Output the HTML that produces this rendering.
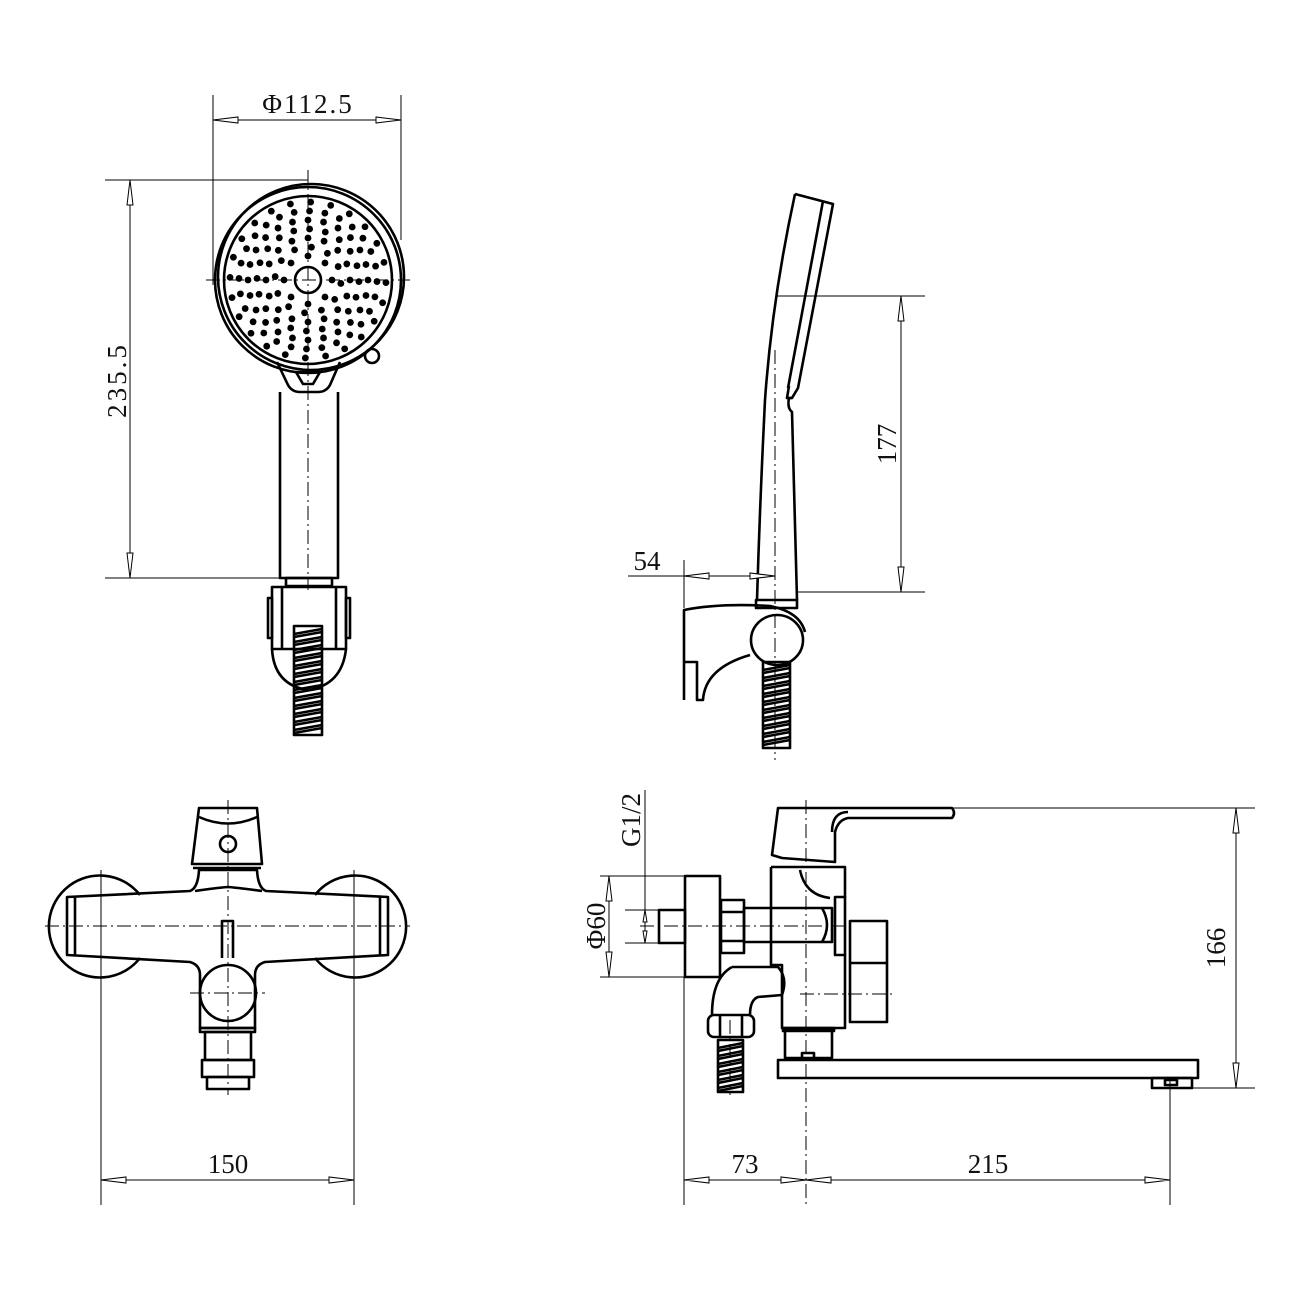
<!DOCTYPE html>
<html><head><meta charset="utf-8"><style>
html,body{margin:0;padding:0;background:#fff}
svg{display:block}
text{font-family:"Liberation Serif",serif;font-size:27px;fill:#111}
.k{fill:none;stroke:#000;stroke-width:2.6;stroke-linejoin:round}
.t{fill:none;stroke:#000;stroke-width:1}
.c{fill:none;stroke:#000;stroke-width:1;stroke-dasharray:14 4 2 4}
.a{fill:#fff;stroke:#000;stroke-width:1}
</style></head><body>
<svg id="s" width="1300" height="1300" viewBox="0 0 1300 1300" xmlns="http://www.w3.org/2000/svg">
<g id="head">
<circle class="k" cx="308" cy="280" r="93"/>
<circle class="k" cx="311" cy="277" r="93"/>
<circle class="k" cx="308" cy="280" r="84"/>
<circle class="k" cx="308" cy="280" r="13"/>
<circle class="k" cx="372" cy="356" r="7"/>
</g>
<line class="c" x1="206" y1="280" x2="410" y2="280"/>
<line class="c" x1="308" y1="170" x2="308" y2="590"/>
<path class="k" d="M277 362 L288 385 Q292 392 300 392 L318 392 Q326 392 330 385 L340 362"/>
<path class="k" d="M296 372 L303 384 L313 384 L320 372 Z"/>
<path class="k" d="M280 392 L280 578 L338 578 L338 392"/>
<rect class="k" x="286" y="578" width="46" height="8"/>
<rect class="k" x="272" y="587" width="74" height="62"/>
<rect class="k" x="268" y="598" width="4" height="40"/>
<rect class="k" x="346" y="598" width="4" height="40"/>
<line class="k" x1="282" y1="587" x2="282" y2="649"/>
<line class="k" x1="336" y1="587" x2="336" y2="649"/>
<path class="k" d="M272 649 Q274 685 308 690 Q342 685 346 649"/>
<g id="hose1"></g>
<line class="t" x1="213" y1="95" x2="213" y2="285"/>
<line class="t" x1="401" y1="95" x2="401" y2="240"/>
<line class="t" x1="213" y1="120" x2="401" y2="120"/>
<path class="a" d="M213 120 L238 117 L238 123 Z M401 120 L376 117 L376 123 Z"/>
<text x="308" y="113" text-anchor="middle" letter-spacing="2">Φ112.5</text>
<line class="t" x1="105" y1="180" x2="308" y2="180"/>
<line class="t" x1="105" y1="578" x2="285" y2="578"/>
<line class="t" x1="130" y1="180" x2="130" y2="578"/>
<path class="a" d="M130 180 L127 205 L133 205 Z M130 578 L127 553 L133 553 Z"/>
<text transform="translate(126 380) rotate(-90)" text-anchor="middle" letter-spacing="3">235.5</text>

<path class="k" d="M795 194 L833 204 L798 388 L792 398 L787 398 L789 386"/>
<path class="k" d="M795 194 Q772 300 765 400 Q760 500 757 600"/>
<path class="k" d="M788 388 L823 201"/>
<path class="k" d="M792 398 L789 398 Q787 408 792 412 L797 600"/>
<rect class="k" x="756" y="600" width="41" height="8"/>
<path class="k" d="M684 700 L684 610 Q720 603 770 606 Q800 612 805 632"/>
<path class="k" d="M684 662 L697 662 L697 700 L703 700 Q705 668 750 655"/>
<ellipse class="k" cx="777" cy="640" rx="26" ry="25"/>
<g id="hose2"></g>
<line class="c" x1="775" y1="350" x2="775" y2="760"/>
<line class="t" x1="777" y1="296" x2="925" y2="296"/>
<line class="t" x1="797" y1="592" x2="925" y2="592"/>
<line class="t" x1="901" y1="296" x2="901" y2="592"/>
<path class="a" d="M901 296 L898 321 L904 321 Z M901 592 L898 567 L904 567 Z"/>
<text transform="translate(896 444) rotate(-90)" text-anchor="middle">177</text>
<line class="t" x1="684" y1="560" x2="684" y2="608"/>
<line class="t" x1="628" y1="576" x2="775" y2="576"/>
<path class="a" d="M684 576 L709 573 L709 579 Z M775 576 L750 573 L750 579 Z"/>
<text x="647" y="570" text-anchor="middle">54</text>

<path class="k" d="M140 895 A51 51 0 1 0 140 958"/>
<path class="k" d="M315 895 A51 51 0 1 1 315 958"/>
<path class="k" d="M67 897 L190 891 Q198 888 199 870 L257 870 Q258 888 266 891 L388 897 L388 955 L265 962 Q255 965 255 975 L255 1028 L200 1028 L200 975 Q200 965 190 962 L67 955 Z"/>
<path class="k" d="M195 891 Q215 888 228 887 Q240 888 262 891"/>
<line class="k" x1="75" y1="897" x2="75" y2="955"/>
<line class="k" x1="380" y1="897" x2="380" y2="955"/>
<path class="k" d="M199 808 L257 808 L262 864 L192 864 Z"/>
<path class="k" d="M199 817 Q228 830 257 817"/>
<line class="k" x1="193" y1="868" x2="261" y2="868"/>
<circle class="k" cx="228" cy="844" r="8"/>
<circle class="k" cx="228" cy="993" r="28"/>
<path class="k" d="M222 958 L222 921 L233 921 L233 958"/>
<rect class="k" x="200" y="1028" width="55" height="4" fill="#000"/>
<rect class="k" x="205" y="1032" width="46" height="28"/>
<rect class="k" x="202" y="1060" width="52" height="17"/>
<rect class="k" x="207" y="1077" width="42" height="12"/>
<line class="c" x1="45" y1="926" x2="410" y2="926"/>
<line class="c" x1="228" y1="800" x2="228" y2="1095"/>
<line class="c" x1="190" y1="993" x2="265" y2="993"/>
<line class="t" x1="101" y1="870" x2="101" y2="1205"/>
<line class="t" x1="354" y1="870" x2="354" y2="1205"/>
<line class="t" x1="101" y1="1180" x2="354" y2="1180"/>
<path class="a" d="M101 1180 L126 1177 L126 1183 Z M354 1180 L329 1177 L329 1183 Z"/>
<text x="228" y="1173" text-anchor="middle">150</text>

<path class="k" d="M778 808 L952 808 Q956 813 952 818 L848 818 Q838 820 835 832 L835 862 L782 858 L772 855 Z"/>
<path class="k" d="M832 832 Q832 812 848 812"/>
<path class="k" d="M771 867 L845 867 L845 897 M771 867 L771 965 L782 965 L782 1028 L845 1028 L845 955"/>
<rect class="k" x="835" y="897" width="10" height="58"/>
<path class="k" d="M800 870 Q805 895 830 898"/>
<rect class="k" x="744" y="908" width="88" height="34"/>
<path class="k" d="M822 908 Q832 925 822 942"/>
<rect class="k" x="721" y="900" width="23" height="53"/>
<line class="k" x1="721" y1="912" x2="744" y2="912"/><line class="k" x1="721" y1="941" x2="744" y2="941"/>
<rect class="k" x="685" y="876" width="35" height="101"/>
<rect class="k" x="659" y="910" width="26" height="33"/>
<rect class="k" x="850" y="921" width="37" height="101"/>
<line class="k" x1="850" y1="963" x2="887" y2="963"/>
<rect class="k" x="785" y="1030" width="47" height="28"/>
<rect class="k" x="783" y="1028" width="51" height="3" fill="#000"/>
<rect class="k" x="802" y="1053" width="12" height="6"/>
<rect class="k" x="778" y="1060" width="420" height="18"/>
<rect class="k" x="1152" y="1078" width="40" height="10"/>
<rect class="k" x="1165" y="1080" width="12" height="5"/>
<path class="k" d="M732 967 L778 967 Q788 978 782 995 L758 997 Q750 1000 750 1015 M732 967 Q712 978 712 1015"/>
<rect class="k" x="708" y="1015" width="46" height="22" rx="6"/>
<line class="k" x1="720" y1="1015" x2="720" y2="1037"/><line class="k" x1="742" y1="1015" x2="742" y2="1037"/>
<g id="hose3"></g>
<line class="c" x1="806" y1="800" x2="806" y2="1205"/>
<line class="c" x1="640" y1="926" x2="850" y2="926"/>
<line class="c" x1="800" y1="994" x2="895" y2="994"/>
<line class="c" x1="730" y1="1020" x2="730" y2="1095"/>
<line class="t" x1="953" y1="808" x2="1255" y2="808"/>
<line class="t" x1="1192" y1="1088" x2="1255" y2="1088"/>
<line class="t" x1="1236" y1="808" x2="1236" y2="1088"/>
<path class="a" d="M1236 808 L1233 833 L1239 833 Z M1236 1088 L1233 1063 L1239 1063 Z"/>
<text transform="translate(1225 948) rotate(-90)" text-anchor="middle">166</text>
<line class="t" x1="600" y1="876" x2="685" y2="876"/>
<line class="t" x1="600" y1="977" x2="685" y2="977"/>
<line class="t" x1="609" y1="876" x2="609" y2="977"/>
<path class="a" d="M609 876 L606 901 L612 901 Z M609 977 L606 952 L612 952 Z"/>
<text transform="translate(605 926) rotate(-90)" text-anchor="middle">Φ60</text>
<line class="t" x1="625" y1="910" x2="659" y2="910"/>
<line class="t" x1="625" y1="943" x2="659" y2="943"/>
<line class="t" x1="645" y1="790" x2="645" y2="943"/>
<path class="a" d="M645 910 L643 922 L647 922 Z M645 943 L643 931 L647 931 Z"/>
<text transform="translate(640 820) rotate(-90)" text-anchor="middle">G1/2</text>
<line class="t" x1="684" y1="977" x2="684" y2="1205"/>
<line class="t" x1="1170" y1="1078" x2="1170" y2="1205"/>
<line class="t" x1="684" y1="1180" x2="1170" y2="1180"/>
<path class="a" d="M684 1180 L709 1177 L709 1183 Z M806 1180 L781 1177 L781 1183 Z M806 1180 L831 1177 L831 1183 Z M1170 1180 L1145 1177 L1145 1183 Z"/>
<text x="745" y="1173" text-anchor="middle">73</text>
<text x="988" y="1173" text-anchor="middle">215</text>
</svg>
<script>
var NS="http://www.w3.org/2000/svg";
function el(p,t,a){var e=document.createElementNS(NS,t);for(var k in a)e.setAttribute(k,a[k]);p.appendChild(e);return e;}
var h=document.getElementById("head");
var rings=[[24,8,0],[33,12,0.2],[42,16,0],[51,20,0.1],[60,24,0],[69,28,0.1],[78,24,0.13]];
rings.forEach(function(r){for(var i=0;i<r[1];i++){var a=(i/r[1]+r[2]/r[1])*Math.PI*2;el(h,"circle",{cx:308+r[0]*Math.cos(a),cy:280+r[0]*Math.sin(a),r:3.4,fill:"#000"});}});
function hose(id,x1,x2,y1,y2){var g=document.getElementById(id);el(g,"rect",{x:x1,y:y1,width:x2-x1,height:y2-y1,"class":"k"});for(var y=y1+3;y<y2-4;y+=8){el(g,"path",{d:"M"+x1+" "+(y+5)+" L"+x2+" "+y+" M"+x1+" "+(y+8)+" L"+x2+" "+(y+3),"class":"k","stroke-width":"1.8"});}}
hose("hose1",294,322,626,735);
hose("hose2",763,790,662,748);
hose("hose3",718,743,1040,1092);
</script>
</body></html>
